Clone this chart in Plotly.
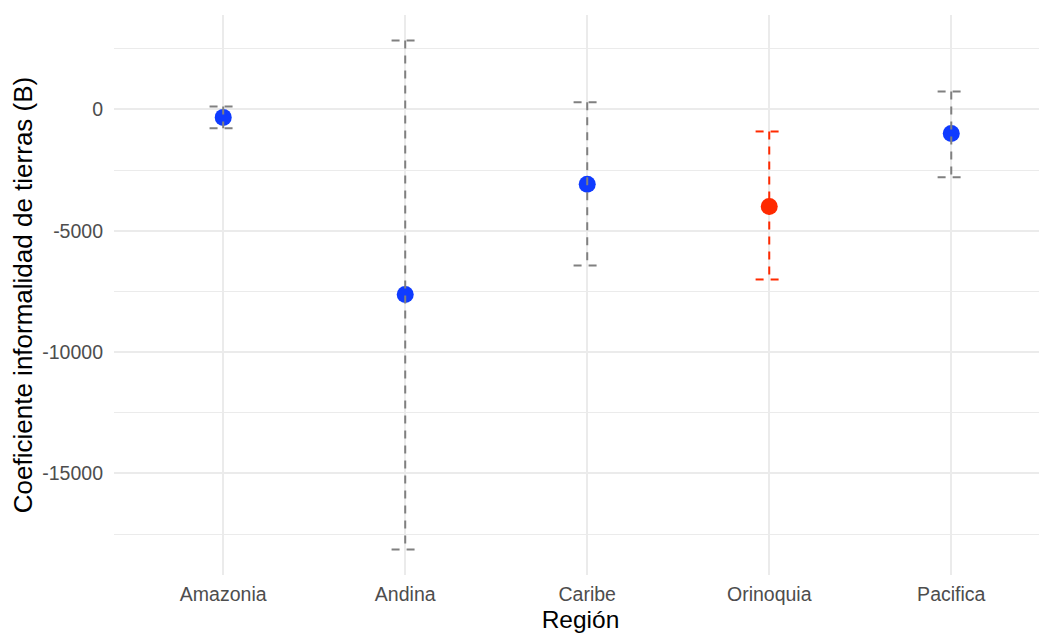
import plotly.graph_objects as go

regions = ["Amazonia", "Andina", "Caribe", "Orinoquia", "Pacifica"]
coef = [-330, -7630, -3090, -4000, -990]
ci_low = [-780, -18140, -6430, -7010, -2800]
ci_high = [120, 2840, 290, -910, 740]
significant = [False, False, False, True, False]
y_ticks = [-15000, -10000, -5000, 0]
y_tick_labels = ["-15000", "-10000", "-5000", "0"]

blue = "#0F3BFF"
red = "#FF2A00"
gray = "#808080"
cap_half = 0.075

fig = go.Figure()

xs = list(range(len(regions)))
colors = [red if s else blue for s in significant]

fig.add_trace(go.Scatter(
    x=xs, y=coef, mode="markers",
    marker=dict(size=17, color=colors, line=dict(width=0)),
    showlegend=False, hoverinfo="skip"))

for i, (lo, hi, s) in enumerate(zip(ci_low, ci_high, significant)):
    ex = [i - cap_half, i + cap_half, None, i, i, None, i - cap_half, i + cap_half]
    ey = [hi, hi, None, hi, lo, None, lo, lo]
    fig.add_trace(go.Scatter(
        x=ex, y=ey, mode="lines",
        line=dict(color=red if s else gray, width=2, dash="8px,7px"),
        showlegend=False, hoverinfo="skip", connectgaps=False))

ymin = min(ci_low)
ymax = max(ci_high)
pad = 0.05 * (ymax - ymin)

fig.update_layout(
    width=1039, height=625,
    margin=dict(l=106, r=0, t=7, b=58, autoexpand=False),
    plot_bgcolor="white", paper_bgcolor="white",
    font=dict(family="Liberation Sans, Arial, sans-serif"),
    xaxis=dict(
        tickmode="array", tickvals=xs, ticktext=regions,
        range=[-0.6, 4.526],
        showgrid=True, gridcolor="#EBEBEB", gridwidth=1.6,
        zeroline=False, showline=False, ticks="",
        ticklabelstandoff=5,
        tickfont=dict(size=19.5, color="#4D4D4D"),
        title=dict(text="Región", font=dict(size=24.5, color="black"), standoff=7),
    ),
    yaxis=dict(
        range=[ymin - pad, ymax + pad],
        tickmode="array", tickvals=y_ticks, ticktext=y_tick_labels,
        showgrid=True, gridcolor="#EBEBEB", gridwidth=1.6,
        minor=dict(tickmode="linear", dtick=2500, tick0=0, showgrid=True, gridcolor="#EBEBEB", gridwidth=1.2),
        zeroline=False, showline=False, ticks="",
        ticklabelstandoff=10,
        tickfont=dict(size=19.5, color="#4D4D4D"),
        title=dict(text="Coeficiente informalidad de tierras (B)", font=dict(size=26, color="black"), standoff=4),
    ),
)

fig.write_html("out.html")
